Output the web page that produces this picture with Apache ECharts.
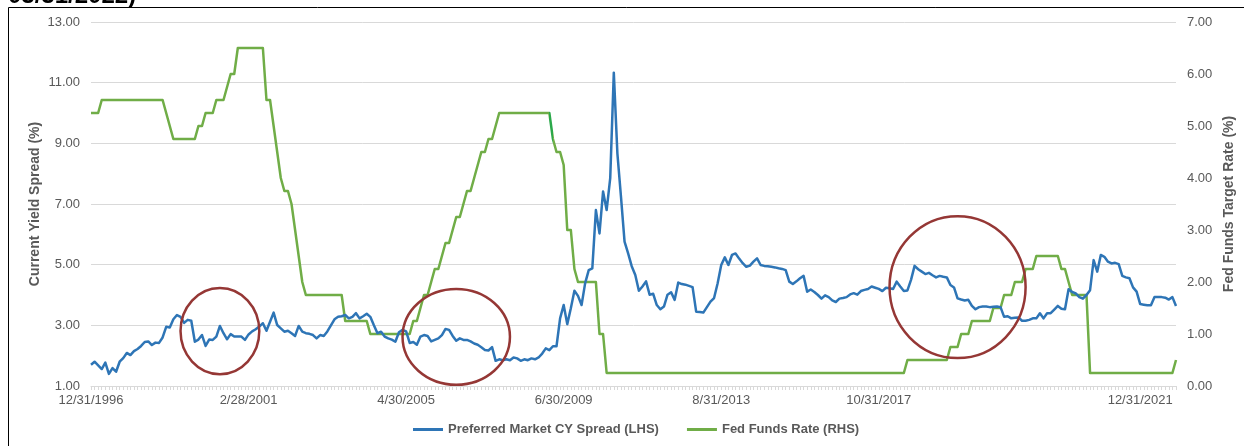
<!DOCTYPE html>
<html>
<head>
<meta charset="utf-8">
<script src="https://cdn.jsdelivr.net/npm/echarts@6/dist/echarts.min.js"></script>
<style>
  html, body { margin: 0; padding: 0; background: #fff; }
  #chart { width: 1244px; height: 446px; }
</style>
</head>
<body>
<div id="chart"></div>
<script>
// Month-end observations, 12/31/1996 through 3/31/2022
const START_YEAR = 1996, START_MONTH = 12, N_MONTHS = 304;
const months = [];
for (let i = 0; i < N_MONTHS; i++) {
  const m0 = START_MONTH - 1 + i;
  const y = START_YEAR + Math.floor(m0 / 12);
  const m = (m0 % 12) + 1;
  const d = new Date(y, m, 0).getDate();
  months.push(m + '/' + d + '/' + y);
}

// Category positions that carry a date label on the horizontal axis
const tickAt = [0, 44, 88, 132, 176, 220, 293];
const tickLabels = ['12/31/1996', '2/28/2001', '4/30/2005', '6/30/2009', '8/31/2013', '10/31/2017', '12/31/2021'];

// Preferred Market CY Spread (%), left axis
const spread = [
  1.70, 1.80, 1.68, 1.56, 1.77, 1.40, 1.59, 1.47, 1.80, 1.92,
  2.09, 2.02, 2.15, 2.22, 2.32, 2.45, 2.47, 2.35, 2.43, 2.42,
  2.60, 2.95, 2.93, 3.20, 3.34, 3.28, 3.08, 3.18, 3.15, 2.46,
  2.53, 2.68, 2.32, 2.53, 2.52, 2.63, 2.98, 2.74, 2.54, 2.71,
  2.63, 2.63, 2.63, 2.52, 2.70, 2.80, 2.87, 2.96, 3.07, 2.82,
  3.12, 3.42, 3.01, 2.90, 2.79, 2.82, 2.74, 2.65, 2.98, 2.79,
  2.74, 2.72, 2.68, 2.57, 2.68, 2.65, 2.80, 3.00, 3.20, 3.28,
  3.30, 3.34, 3.23, 3.28, 3.40, 3.23, 3.30, 3.38, 3.28, 3.00,
  2.74, 2.79, 2.63, 2.57, 2.53, 2.46, 2.77, 2.85, 2.80, 2.42,
  2.45, 2.36, 2.63, 2.68, 2.65, 2.47, 2.52, 2.57, 2.68, 2.88,
  2.85, 2.65, 2.49, 2.57, 2.52, 2.52, 2.47, 2.40, 2.36, 2.28,
  2.19, 2.17, 2.28, 1.83, 1.88, 1.85, 1.88, 1.85, 1.94, 1.91,
  1.83, 1.88, 1.85, 1.91, 1.88, 1.94, 2.07, 2.24, 2.18, 2.31,
  2.31, 3.23, 3.67, 3.04, 3.56, 4.14, 3.97, 3.67, 4.39, 4.82,
  4.88, 6.80, 6.03, 7.41, 6.80, 7.85, 11.33, 8.67, 7.24, 5.76,
  5.37, 4.95, 4.66, 4.14, 4.28, 4.45, 4.01, 4.04, 3.67, 3.53,
  3.62, 4.01, 4.09, 3.84, 4.41, 4.36, 4.34, 4.30, 4.26, 3.45,
  3.44, 3.42, 3.60, 3.78, 3.90, 4.39, 4.99, 5.24, 4.99, 5.32,
  5.37, 5.20, 5.05, 4.93, 4.97, 5.10, 5.21, 4.99, 4.96, 4.95,
  4.93, 4.91, 4.88, 4.86, 4.82, 4.44, 4.36, 4.45, 4.55, 4.63,
  4.11, 4.18, 4.10, 4.00, 3.88, 3.99, 3.93, 3.82, 3.77, 3.88,
  3.90, 3.93, 4.02, 4.06, 4.01, 4.13, 4.17, 4.20, 4.28, 4.24,
  4.20, 4.13, 4.24, 4.22, 4.20, 4.44, 4.28, 4.13, 4.15, 4.50,
  4.96, 4.85, 4.77, 4.69, 4.73, 4.65, 4.58, 4.63, 4.60, 4.58,
  4.33, 4.25, 3.89, 3.85, 3.82, 3.84, 3.64, 3.53, 3.60, 3.62,
  3.62, 3.60, 3.61, 3.62, 3.60, 3.28, 3.30, 3.23, 3.25, 3.26,
  3.15, 3.15, 3.18, 3.23, 3.23, 3.40, 3.23, 3.40, 3.40, 3.52,
  3.64, 3.55, 3.53, 4.19, 4.10, 4.05, 3.93, 3.88, 4.00, 4.16,
  5.15, 4.77, 5.32, 5.26, 5.10, 5.04, 5.06, 5.02, 4.63, 4.58,
  4.55, 4.25, 4.11, 3.70, 3.68, 3.66, 3.66, 3.93, 3.93, 3.93,
  3.91, 3.85, 3.93, 3.64
];

// Fed Funds Target Rate (%, upper bound), right axis
const fedFunds = [
  5.25, 5.25, 5.25, 5.50, 5.50, 5.50, 5.50, 5.50, 5.50, 5.50,
  5.50, 5.50, 5.50, 5.50, 5.50, 5.50, 5.50, 5.50, 5.50, 5.50,
  5.50, 5.25, 5.00, 4.75, 4.75, 4.75, 4.75, 4.75, 4.75, 4.75,
  5.00, 5.00, 5.25, 5.25, 5.25, 5.50, 5.50, 5.50, 5.75, 6.00,
  6.00, 6.50, 6.50, 6.50, 6.50, 6.50, 6.50, 6.50, 6.50, 5.50,
  5.50, 5.00, 4.50, 4.00, 3.75, 3.75, 3.50, 3.00, 2.50, 2.00,
  1.75, 1.75, 1.75, 1.75, 1.75, 1.75, 1.75, 1.75, 1.75, 1.75,
  1.75, 1.25, 1.25, 1.25, 1.25, 1.25, 1.25, 1.25, 1.00, 1.00,
  1.00, 1.00, 1.00, 1.00, 1.00, 1.00, 1.00, 1.00, 1.00, 1.00,
  1.25, 1.25, 1.50, 1.75, 1.75, 2.00, 2.25, 2.25, 2.50, 2.75,
  2.75, 3.00, 3.25, 3.25, 3.50, 3.75, 3.75, 4.00, 4.25, 4.50,
  4.50, 4.75, 4.75, 5.00, 5.25, 5.25, 5.25, 5.25, 5.25, 5.25,
  5.25, 5.25, 5.25, 5.25, 5.25, 5.25, 5.25, 5.25, 5.25, 4.75,
  4.50, 4.50, 4.25, 3.00, 3.00, 2.25, 2.00, 2.00, 2.00, 2.00,
  2.00, 2.00, 1.00, 1.00, 0.25, 0.25, 0.25, 0.25, 0.25, 0.25,
  0.25, 0.25, 0.25, 0.25, 0.25, 0.25, 0.25, 0.25, 0.25, 0.25,
  0.25, 0.25, 0.25, 0.25, 0.25, 0.25, 0.25, 0.25, 0.25, 0.25,
  0.25, 0.25, 0.25, 0.25, 0.25, 0.25, 0.25, 0.25, 0.25, 0.25,
  0.25, 0.25, 0.25, 0.25, 0.25, 0.25, 0.25, 0.25, 0.25, 0.25,
  0.25, 0.25, 0.25, 0.25, 0.25, 0.25, 0.25, 0.25, 0.25, 0.25,
  0.25, 0.25, 0.25, 0.25, 0.25, 0.25, 0.25, 0.25, 0.25, 0.25,
  0.25, 0.25, 0.25, 0.25, 0.25, 0.25, 0.25, 0.25, 0.25, 0.25,
  0.25, 0.25, 0.25, 0.25, 0.25, 0.25, 0.25, 0.25, 0.50, 0.50,
  0.50, 0.50, 0.50, 0.50, 0.50, 0.50, 0.50, 0.50, 0.50, 0.50,
  0.75, 0.75, 0.75, 1.00, 1.00, 1.00, 1.25, 1.25, 1.25, 1.25,
  1.25, 1.25, 1.50, 1.50, 1.50, 1.75, 1.75, 1.75, 2.00, 2.00,
  2.00, 2.25, 2.25, 2.25, 2.50, 2.50, 2.50, 2.50, 2.50, 2.50,
  2.50, 2.25, 2.25, 2.00, 1.75, 1.75, 1.75, 1.75, 1.75, 0.25,
  0.25, 0.25, 0.25, 0.25, 0.25, 0.25, 0.25, 0.25, 0.25, 0.25,
  0.25, 0.25, 0.25, 0.25, 0.25, 0.25, 0.25, 0.25, 0.25, 0.25,
  0.25, 0.25, 0.25, 0.50
];

// Highlight rings drawn over the spread line: centre (category index, spread %), radii in the same units
const rings = [
  { at: 36.2, level: 2.81, rIdx: 10.3, rVal: 1.42 },
  { at: 102.2, level: 2.62, rIdx: 15.1, rVal: 1.58 },
  { at: 242.2, level: 4.26, rIdx: 18.3, rVal: 2.34 }
];

const FONT = '"Liberation Sans", Arial, sans-serif';
const GREY = '#595959';
const BLUE = '#2E75B6';
const GREEN = '#70AD47';
const GREEN_DARK = '#2BA84A';

const chart = echarts.init(document.getElementById('chart'), null, { renderer: 'canvas' });

chart.setOption({
  animation: false,
  backgroundColor: '#ffffff',
  textStyle: { fontFamily: FONT },
  grid: { left: 91, right: 68, top: 22, bottom: 60 },
  legend: {
    bottom: 5,
    left: 408,
    itemGap: 28,
    itemWidth: 30,
    itemHeight: 3,
    icon: 'rect',
    textStyle: { color: GREY, fontWeight: 'bold', fontSize: 13, fontFamily: FONT },
    data: [
      { name: 'Preferred Market CY Spread (LHS)', itemStyle: { color: BLUE } },
      { name: 'Fed Funds Rate (RHS)', itemStyle: { color: GREEN } }
    ]
  },
  visualMap: {
    show: false,
    type: 'piecewise',
    seriesIndex: 1,
    dimension: 0,
    pieces: [
      { lt: 128, color: GREEN },
      { gte: 128, lte: 129, color: GREEN_DARK },
      { gt: 129, color: GREEN }
    ]
  },
  xAxis: {
    type: 'category',
    data: months,
    boundaryGap: false,
    axisLine: { show: true, lineStyle: { color: '#d9d9d9', width: 1 } },
    axisTick: { show: true, interval: 0, length: 4, lineStyle: { color: '#d9d9d9' } },
    axisLabel: {
      color: GREY,
      fontSize: 13,
      margin: 8,
      interval: function (index) { return tickAt.indexOf(index) >= 0; },
      formatter: function (value, index) {
        const k = tickAt.indexOf(index);
        return k >= 0 ? tickLabels[k] : '';
      }
    },
    splitLine: { show: false }
  },
  yAxis: [
    {
      type: 'value',
      min: 1, max: 13, interval: 2,
      position: 'left',
      name: 'Current Yield Spread (%)',
      nameLocation: 'middle',
      nameGap: 49,
      nameMoveOverlap: false,
      nameRotate: 90,
      nameTextStyle: { color: GREY, fontWeight: 'bold', fontSize: 14 },
      axisLine: { show: false },
      axisTick: { show: false },
      axisLabel: { color: GREY, fontSize: 13, margin: 11, formatter: v => v.toFixed(2) },
      splitLine: { show: true, lineStyle: { color: '#d9d9d9', width: 1 } }
    },
    {
      type: 'value',
      min: 0, max: 7, interval: 1,
      position: 'right',
      name: 'Fed Funds Target Rate (%)',
      nameLocation: 'middle',
      nameGap: 46,
      nameMoveOverlap: false,
      nameRotate: 90,
      nameTextStyle: { color: GREY, fontWeight: 'bold', fontSize: 14 },
      axisLine: { show: false },
      axisTick: { show: false },
      axisLabel: { color: GREY, fontSize: 13, margin: 11, formatter: v => v.toFixed(2) },
      splitLine: { show: false }
    }
  ],
  series: [
    {
      name: 'Preferred Market CY Spread (LHS)',
      type: 'line',
      yAxisIndex: 0,
      data: spread,
      symbol: 'none',
      itemStyle: { color: BLUE },
      lineStyle: { color: BLUE, width: 2.5, join: 'round' },
      z: 3
    },
    {
      name: 'Fed Funds Rate (RHS)',
      type: 'line',
      yAxisIndex: 1,
      data: fedFunds,
      symbol: 'none',
      itemStyle: { color: GREEN },
      lineStyle: { width: 2.5, join: 'round' },
      z: 2
    }
  ]
});

// Rings and frame are placed once the axes are laid out
function px(i, v) { return chart.convertToPixel({ xAxisIndex: 0, yAxisIndex: 0 }, [i, v]); }
const ringShapes = rings.map(function (r) {
  const c = px(r.at, r.level);
  const e = px(r.at + r.rIdx, r.level + r.rVal);
  return {
    type: 'ellipse',
    z: 10,
    shape: { cx: c[0], cy: c[1], rx: Math.abs(e[0] - c[0]), ry: Math.abs(c[1] - e[1]) },
    style: { fill: 'none', stroke: '#953735', lineWidth: 2.5 }
  };
});

chart.setOption({
  graphic: [
    {
      type: 'rect',
      z: 0,
      shape: { x: 8.5, y: 7.5, width: 1300, height: 500 },
      style: { fill: 'none', stroke: '#000000', lineWidth: 1 }
    },
    {
      type: 'text',
      z: 11,
      x: 8, y: -3.5,
      style: { text: '03/31/2022)', font: 'bold 24px ' + FONT, fill: '#000000', verticalAlign: 'middle' }
    }
  ].concat(ringShapes)
});
</script>
</body>
</html>
